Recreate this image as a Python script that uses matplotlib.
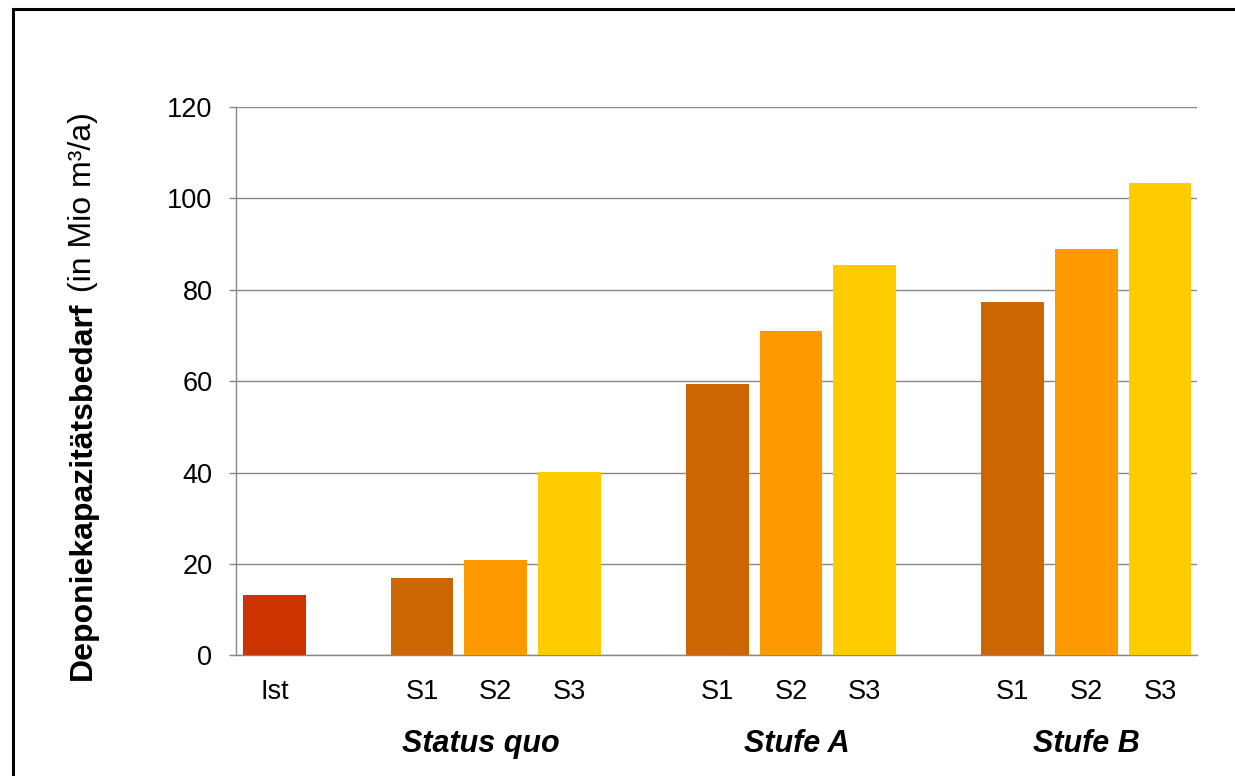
import matplotlib
matplotlib.use("Agg")
import matplotlib.pyplot as plt
from matplotlib.lines import Line2D

plt.rcParams['font.family'] = ['Liberation Sans', 'DejaVu Sans']

# bar data
labels = ["Ist", "S1", "S2", "S3", "S1", "S2", "S3", "S1", "S2", "S3"]
values = [13.2, 16.9, 20.8, 40.1, 59.5, 71.1, 85.5, 77.4, 89.0, 103.4]
positions = [0, 2, 3, 4, 6, 7, 8, 10, 11, 12]
colors = ["#CC3300", "#CC6600", "#FF9900", "#FFCC00",
          "#CC6600", "#FF9900", "#FFCC00",
          "#CC6600", "#FF9900", "#FFCC00"]

groups = ["Status quo", "Stufe A", "Stufe B"]
group_x = [2.8, 7.08, 11.0]

fig = plt.figure(figsize=(12.35, 7.76), dpi=100)
ax = fig.add_axes([0.1911, 0.1553, 0.7781, 0.7068])

ax.bar(positions, values, width=0.85, color=colors, zorder=3)

ax.set_xlim(-0.52, 12.5)
ax.set_ylim(0, 120)
ax.set_yticks(range(0, 121, 20))
ax.set_xticks(positions)
ax.set_xticklabels(labels)

grid_col = "#878787"
ax.yaxis.grid(True, color=grid_col, linewidth=1.0, zorder=0)
ax.tick_params(axis='y', length=5, width=1.0, color=grid_col, pad=12, labelsize=19.5)
ax.tick_params(axis='x', length=0, pad=17, labelsize=19.5)
for side in ["top", "right"]:
    ax.spines[side].set_visible(False)
for side in ["left", "bottom"]:
    ax.spines[side].set_color(grid_col)
    ax.spines[side].set_linewidth(1.0)

# group names under the category labels
for name, gx in zip(groups, group_x):
    ax.text(gx, -0.162, name, transform=ax.get_xaxis_transform(),
            ha='center', va='center', fontsize=22, style='italic',
            fontweight='bold')

# y label: bold part followed by the unit in regular weight
t1 = fig.text(0.067, 0.124, "Deponiekapazitätsbedarf", rotation=90,
              ha='center', va='bottom', fontsize=23, fontweight='bold')
ax.annotate(" (in Mio m³/a)", xy=(0.5, 1.0), xycoords=t1, rotation=90,
            ha='center', va='bottom', fontsize=23, annotation_clip=False)

# frame lines along the top and left edge
fig.add_artist(Line2D([12.5 / 1235, 12.5 / 1235], [0, 1 - 8.5 / 776],
                      transform=fig.transFigure, color='black', linewidth=2.2,
                      solid_capstyle='projecting'))
fig.add_artist(Line2D([12.5 / 1235, 1], [1 - 8.5 / 776, 1 - 8.5 / 776],
                      transform=fig.transFigure, color='black', linewidth=2.2,
                      solid_capstyle='projecting'))

fig.savefig("out.png", dpi=100)
